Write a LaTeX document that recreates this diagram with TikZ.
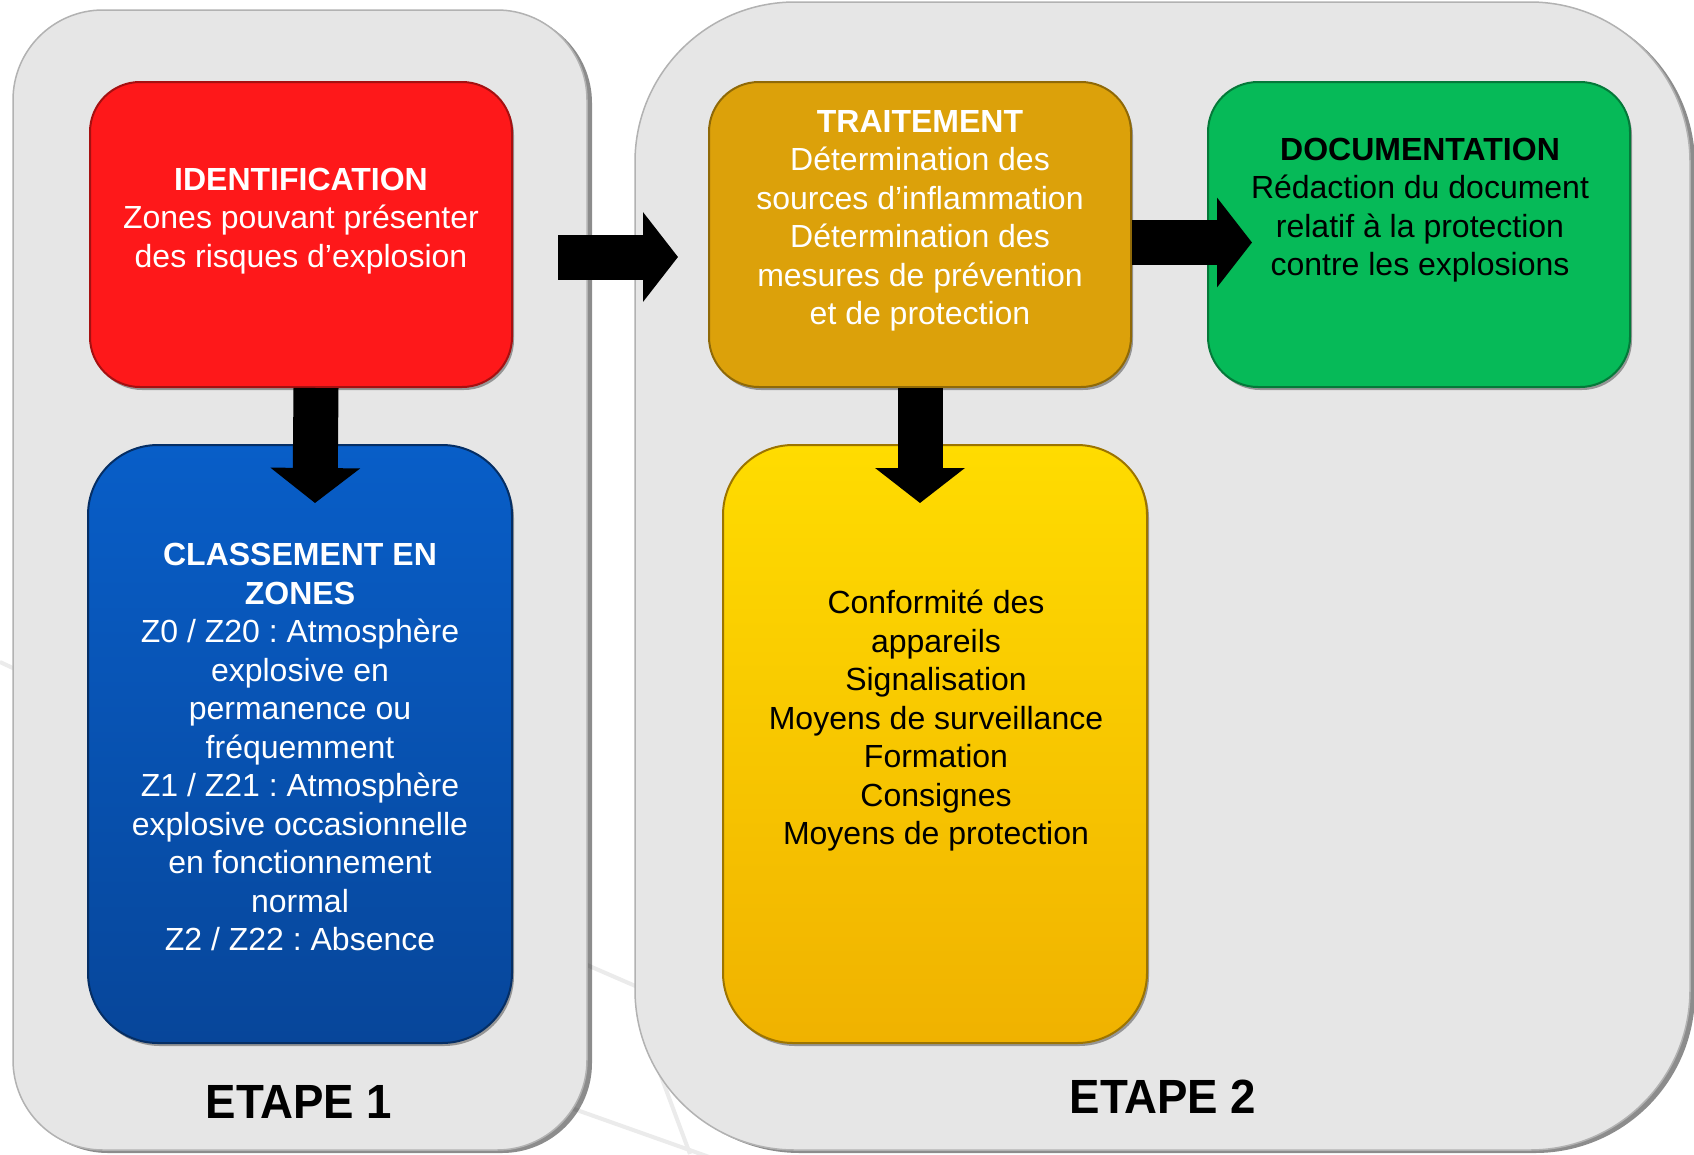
\documentclass[tikz,border=0pt]{standalone}
\usepackage{fontspec}
\setmainfont{Liberation Sans}
\frenchspacing
\definecolor{panelgray}{RGB}{230,230,230}
\definecolor{idred}{RGB}{254,24,26}
\definecolor{traitorange}{RGB}{220,161,10}
\definecolor{docgreen}{RGB}{6,186,88}
\definecolor{classbluetop}{RGB}{8,94,200}
\definecolor{classbluebot}{RGB}{7,70,154}
\definecolor{mesyellowtop}{RGB}{255,220,0}
\definecolor{mesyellowbot}{RGB}{240,178,0}
\usetikzlibrary{arrows.meta, shadows, calc}

\begin{document}
\begin{tikzpicture}[
                x=1pt, y=-1pt,
                line join=round,
                bgline/.style={draw=black!8, line width=4pt},
                panel/.style={fill=panelgray, draw=black!30, line width=1.5pt, inner sep=0pt,
                    drop shadow={shadow xshift=5pt, shadow yshift=-3pt, opacity=0.45, fill=black}},
                stepbox/.style={fill=#1, draw=#1!65!black, line width=2pt, inner sep=0pt,
                    drop shadow={shadow xshift=2pt, shadow yshift=-3pt, opacity=0.35, fill=black}},
                smallbox/.style={minimum width=422pt, minimum height=305pt, rounded corners=50pt},
                bigbox/.style={minimum width=424pt, minimum height=598pt, rounded corners=70pt},
                boxtext/.style={align=center, font=\fontsize{32pt}{38.5pt}\selectfont},
                etapetext/.style={font=\fontsize{48pt}{56pt}\selectfont\bfseries},
                blockarrow/.style={line width=45pt, -{Triangle[length=35pt, width=88pt]}}
            ]
                % Page
                \fill[white] (0,0) rectangle (1694,1154);
                \useasboundingbox (0,0) rectangle (1694,1154);

                % Background lines
                \draw[bgline] (380,875) -- (900,1101);
                \draw[bgline] (450,1065) -- (760,1175);
                \draw[bgline] (655,1060) -- (690,1154);
                \draw[bgline] (0,662) -- (60,690);

                % Panels
                \node[panel, minimum width=574pt, minimum height=1140pt, rounded corners=90pt] (etape1) at (300,580) {};
                \node[panel, minimum width=1055pt, minimum height=1148pt, rounded corners=160pt] (etape2) at (1162.5,576) {};

                % Boxes
                \node[stepbox=idred, smallbox] (ident) at (301,234.5) {};
                \node[stepbox=classbluebot, bigbox, top color=classbluetop, bottom color=classbluebot] (class) at (300,744) {};
                \node[stepbox=traitorange, smallbox] (trait) at (920,234.5) {};
                \node[stepbox=docgreen, smallbox] (doc) at (1419,234.5) {};
                \node[stepbox=mesyellowbot, bigbox, top color=mesyellowtop, bottom color=mesyellowbot] (mesures) at (935,744) {};

                % Arrows
                \coordinate (e1out) at (558,257);
                \coordinate (e2in) at (678,257);
                \draw[blockarrow] (e1out) -- (e2in);
                \draw[blockarrow] ([xshift=15pt]ident.south) -- ($([xshift=15pt]class.north)+(0,59)$);
                \draw[blockarrow] (trait.south) -- ($(trait.south |- mesures.north)+(0,59)$);
                \draw[blockarrow] ($(trait.east)+(0,8)$) -- ($(doc.west)+(45,8)$);

                % Texts
                \node[boxtext, text=white] (identtext) at (301,221) {\textbf{IDENTIFICATION}\\Zones pouvant présenter\\des risques d’explosion};
                \node[boxtext, text=white] (classtext) at (300,747) {\textbf{CLASSEMENT EN}\\\textbf{ZONES}\\Z0 / Z20 : Atmosphère\\explosive en\\permanence ou\\fréquemment\\Z1 / Z21 : Atmosphère\\explosive occasionnelle\\en fonctionnement\\normal\\Z2 / Z22 : Absence};
                \node[boxtext, text=white] (traittext) at (920,221) {\textbf{TRAITEMENT}\\Détermination des\\sources d’inflammation\\Détermination des\\mesures de prévention\\et de protection};
                \node[boxtext, text=black] (doctext) at (1420,210) {\textbf{DOCUMENTATION}\\Rédaction du document\\relatif à la protection\\contre les explosions};
                \node[boxtext, text=black] (mesurestext) at (936,721) {Conformité des\\appareils\\Signalisation\\Moyens de surveillance\\Formation\\Consignes\\Moyens de protection};

                % Step labels
                \node[etapetext] (etape1label) at (299,1102) {\scalebox{0.95}[1]{ETAPE 1}};
                \node[etapetext] (etape2label) at (1163,1097) {\scalebox{0.95}[1]{ETAPE 2}};
            \end{tikzpicture}
\end{document}
